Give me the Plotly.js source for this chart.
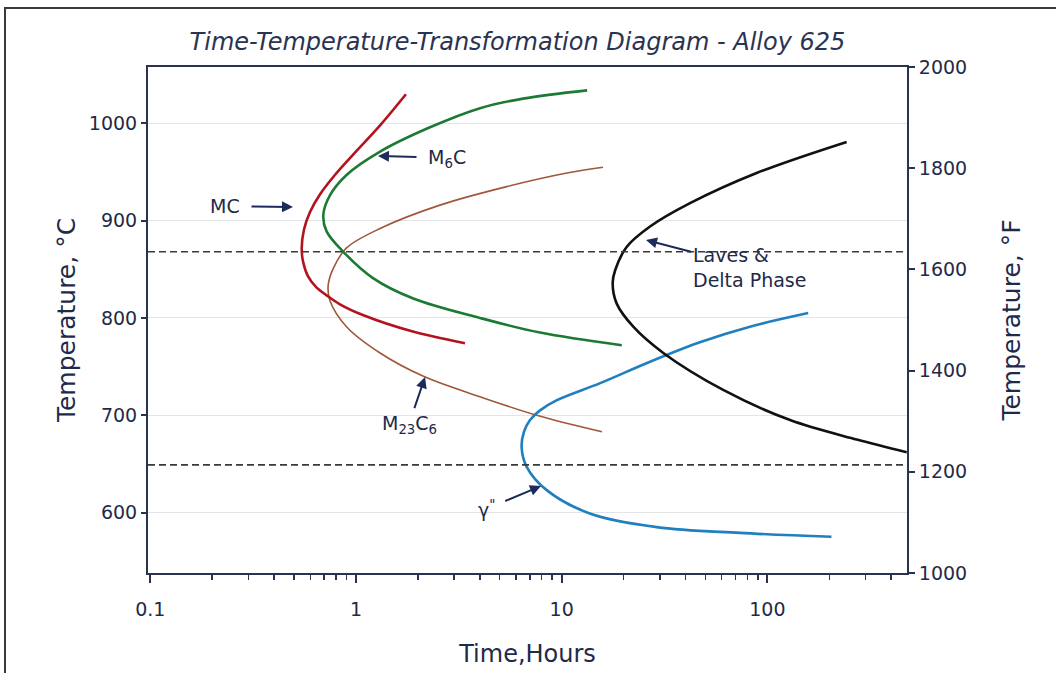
<!DOCTYPE html>
<html>
<head>
<meta charset="utf-8">
<script src="https://cdn.plot.ly/plotly-3.0.1.min.js"></script>
<style>
  html, body { margin: 0; padding: 0; background: #ffffff; }
  #wrap { position: relative; width: 1056px; height: 673px; overflow: hidden; }
  #chart { position: absolute; left: 0; top: 0; width: 1056px; height: 673px; }
  #frame { position: absolute; left: 4px; top: 7px; width: 1070px; height: 690px;
           border-top: 2px solid #3a3a3a; border-left: 2px solid #3a3a3a; pointer-events: none; }
</style>
</head>
<body>
<div id="wrap">
  <div id="chart"></div>
  <div id="frame"></div>
</div>
<script>
// ---- Data (time in hours, temperature in °C) ----
const mcHours   = [1.75, 1.31, 0.989, 0.790, 0.668, 0.598, 0.559, 0.545, 0.553, 0.584, 0.639, 0.723, 0.836, 1.08, 1.89, 3.39];
const mcTempC   = [1030, 998, 970, 947, 927, 909, 891, 872, 858, 843, 832, 823, 814, 803, 786, 774];

const m6cHours  = [13.3, 6.49, 4.01, 2.29, 1.31, 0.90, 0.747, 0.694, 0.720, 0.868, 1.21, 1.90, 4.01, 7.85, 19.6];
const m6cTempC  = [1034, 1025.5, 1015.7, 996, 971, 947, 926, 906, 889, 868, 841, 820, 800, 785, 772];

const m23Hours  = [15.9, 10.6, 5.40, 2.56, 1.31, 0.90, 0.776, 0.733, 0.747, 0.90, 1.31, 2.13, 4.01, 7.56, 15.7];
const m23TempC  = [955, 949, 935, 916, 892, 872, 851, 834, 818, 791, 764, 740, 719, 700, 683];

const gammaHours = [158, 82.3, 47.0, 26.9, 15.4, 9.38, 7.85, 7.02, 6.56, 6.39, 6.76, 8.46, 13.7, 29.0, 73.6, 205];
const gammaTempC = [805, 791, 775, 755, 733, 715, 705, 695, 683, 667, 647, 623, 599, 585, 579, 575];

const lavesHours = [243, 88.7, 42.1, 26.9, 20.7, 18.2, 17.7, 18.5, 22.3, 31.2, 61.0, 129, 272, 476];
const lavesTempC = [981, 949, 918, 894, 873, 849, 836, 815, 791, 764, 726, 695, 675, 662];

const dashedLevelsC = [868, 649];

const yTicksC = [600, 700, 800, 900, 1000];
const yTicksF = [1000, 1200, 1400, 1600, 1800, 2000];
const xTicks = [0.1, 1, 10, 100];
const xTickText = ['0.1', '1', '10', '100'];
const xMinorTicks = [0.2,0.3,0.4,0.5,0.6,0.7,0.8,0.9, 2,3,4,5,6,7,8,9, 20,30,40,50,60,70,80,90, 200,300,400];

// ---- Styling ----
const FONT = 'DejaVu Sans, Liberation Sans, Arial, sans-serif';
const INK = '#1f2a48';
const AXIS = '#2b3150';

// pixel -> paper helpers for annotation placement (plot area 148..907 x 67..573)
const PL = 148, PR = 907, PT = 67, PB = 573;
const px = X => (X - PL) / (PR - PL);
const py = Y => (PB - Y) / (PB - PT);

function curve(x, y, color, width, name) {
  return { type: 'scatter', mode: 'lines', x: x, y: y, name: name,
           line: { color: color, width: width, shape: 'spline', smoothing: 1 },
           hoverinfo: 'x+y+name', showlegend: false };
}

const traces = [
  curve(m23Hours, m23TempC, '#a0573a', 1.6, 'M23C6'),
  curve(mcHours, mcTempC, '#b3121f', 2.6, 'MC'),
  curve(m6cHours, m6cTempC, '#1d7a34', 2.6, 'M6C'),
  curve(gammaHours, gammaTempC, '#1f7fbf', 2.6, 'γ"'),
  curve(lavesHours, lavesTempC, '#111111', 2.6, 'Laves & Delta Phase'),
  { type: 'scatter', mode: 'lines', x: [null], y: [null], yaxis: 'y2',
    showlegend: false, hoverinfo: 'skip' }
];

const shapes = dashedLevelsC.map(v => ({
  type: 'line', xref: 'paper', x0: 0, x1: 1, yref: 'y', y0: v, y1: v,
  line: { color: '#3a3a3a', width: 1.6, dash: '7px,4px' }, layer: 'above'
}));

const annFont = { family: FONT, size: 19, color: INK };
// label with an arrow: head at (hx,hy), text centred at (cx,cy) - all in pixels
function pointer(text, hx, hy, cx, cy, gap) {
  return { xref: 'paper', yref: 'paper', x: px(hx), y: py(hy), text: text,
           showarrow: true, ax: cx - hx, ay: cy - hy, startstandoff: gap || 0,
           arrowhead: 2, arrowsize: 1.1, arrowwidth: 2, arrowcolor: '#1c2a5c',
           font: annFont, align: 'left' };
}

const annotations = [
  pointer('MC', 293, 207, 225, 206, 10),
  pointer('M<sub>6</sub>C', 378, 156, 447, 158, 10),
  pointer('M<sub>23</sub>C<sub>6</sub>', 425, 377, 409, 424, 2),
  pointer('γ<sup>"</sup>', 541, 486, 486, 509, 10),
  pointer('Laves &amp;<br>Delta Phase', 646, 240, 749, 267, 0)
];

const layout = {
  width: 1056, height: 673,
  paper_bgcolor: '#ffffff', plot_bgcolor: '#ffffff',
  margin: { l: PL, r: 1056 - PR, t: PT, b: 673 - PB, pad: 0 },
  font: { family: FONT, color: INK, size: 18 },
  title: { text: '<i>Time-Temperature-Transformation Diagram - Alloy 625</i>',
           font: { family: FONT, size: 24, color: '#2a3350' },
           x: 0.49, xanchor: 'center', xref: 'container',
           y: 1 - 42 / 673, yanchor: 'middle', yref: 'container' },
  xaxis: {
    type: 'log', range: [-1.011, 2.679],
    tickmode: 'array', tickvals: xTicks, ticktext: xTickText,
    ticks: 'outside', ticklen: 8, tickwidth: 2, tickcolor: AXIS,
    ticklabelstandoff: 10,
    minor: { tickmode: 'array', tickvals: xMinorTicks, ticks: 'outside', ticklen: 5, tickwidth: 1.5, tickcolor: AXIS, showgrid: false },
    showline: true, linecolor: AXIS, linewidth: 2, mirror: true,
    showgrid: false, zeroline: false,
    tickfont: { family: FONT, size: 19, color: INK },
    title: { text: 'Time,Hours', font: { family: FONT, size: 24, color: INK }, standoff: 26 }
  },
  yaxis: {
    range: [537.8, 1058],
    tickmode: 'array', tickvals: yTicksC,
    ticks: 'outside', ticklen: 5, tickwidth: 2, tickcolor: AXIS,
    showline: true, linecolor: AXIS, linewidth: 2,
    showgrid: true, gridcolor: '#e2e4e8', gridwidth: 1, zeroline: false,
    tickfont: { family: FONT, size: 19, color: INK },
    title: { text: 'Temperature, °C', font: { family: FONT, size: 25, color: INK }, standoff: 6 }
  },
  yaxis2: {
    overlaying: 'y', side: 'right', range: [1000, 2000],
    tickmode: 'array', tickvals: yTicksF,
    ticks: 'outside', ticklen: 6, tickwidth: 2, tickcolor: AXIS,
    showline: true, linecolor: AXIS, linewidth: 2,
    showgrid: false, zeroline: false,
    tickfont: { family: FONT, size: 19, color: INK },
    title: { text: 'Temperature, °F', font: { family: FONT, size: 25, color: INK }, standoff: 36 }
  },
  shapes: shapes,
  annotations: annotations,
  showlegend: false
};

Plotly.newPlot('chart', traces, layout, { staticPlot: true, displayModeBar: false });
</script>
</body>
</html>
